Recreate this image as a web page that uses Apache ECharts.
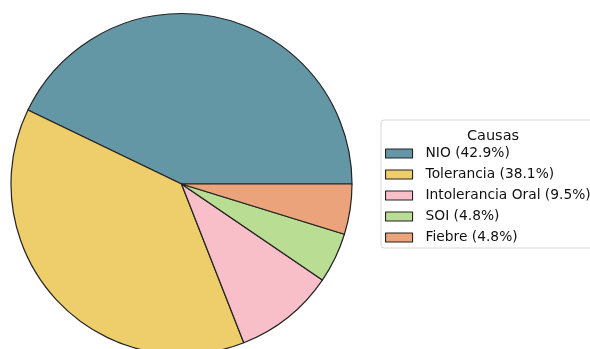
<!DOCTYPE html>
<html>
<head>
<meta charset="utf-8">
<script src="https://cdn.jsdelivr.net/npm/echarts@6/dist/echarts.min.js"></script>
<style>
  html, body { margin: 0; padding: 0; background: #fff; }
  #chart { width: 590px; height: 349px; }
</style>
</head>
<body>
<div id="chart"></div>
<script>
// Causes and their counts
const categories = ['NIO', 'Tolerancia', 'Intolerancia Oral', 'SOI', 'Fiebre'];
const counts = [9, 8, 2, 1, 1];
const colors = ['#6497a6', '#eecd6b', '#f8bfc9', '#badd94', '#eba37c'];
const legendTitle = 'Causas';

const total = counts.reduce((a, b) => a + b, 0);
const pctByName = {};
categories.forEach((c, i) => { pctByName[c] = (counts[i] / total * 100).toFixed(1); });

const chart = echarts.init(document.getElementById('chart'), null, { renderer: 'canvas' });
chart.setOption({
  animation: false,
  backgroundColor: '#ffffff',
  title: {
    text: legendTitle,
    left: 488,
    top: 124,
    textAlign: 'center',
    textStyle: { fontFamily: 'DejaVu Sans', fontSize: 14.5, fontWeight: 'normal', color: '#111' }
  },
  legend: {
    orient: 'vertical',
    left: 381,
    top: 120,
    padding: [26, 6, 3, 4],
    itemWidth: 27,
    itemHeight: 9,
    itemGap: 6,
    borderColor: '#d8d8d8',
    borderWidth: 1,
    borderRadius: 3,
    icon: 'rect',
    itemStyle: { borderColor: '#222', borderWidth: 1.1 },
    selectedMode: false,
    textStyle: {
      fontFamily: 'DejaVu Sans',
      fontSize: 13.8,
      lineHeight: 15,
      color: '#111',
      padding: [0, 0, 0, 8]
    },
    formatter: name => `${name} (${pctByName[name]}%)`,
    data: categories
  },
  series: [{
    type: 'pie',
    center: [181.5, 184],
    radius: 170.5,
    startAngle: 0,
    clockwise: false,
    label: { show: false },
    labelLine: { show: false },
    emphasis: { disabled: true },
    itemStyle: { borderColor: '#222', borderWidth: 1.2 },
    data: categories.map((c, i) => ({ name: c, value: counts[i], itemStyle: { color: colors[i] } }))
  }]
});
</script>
</body>
</html>
